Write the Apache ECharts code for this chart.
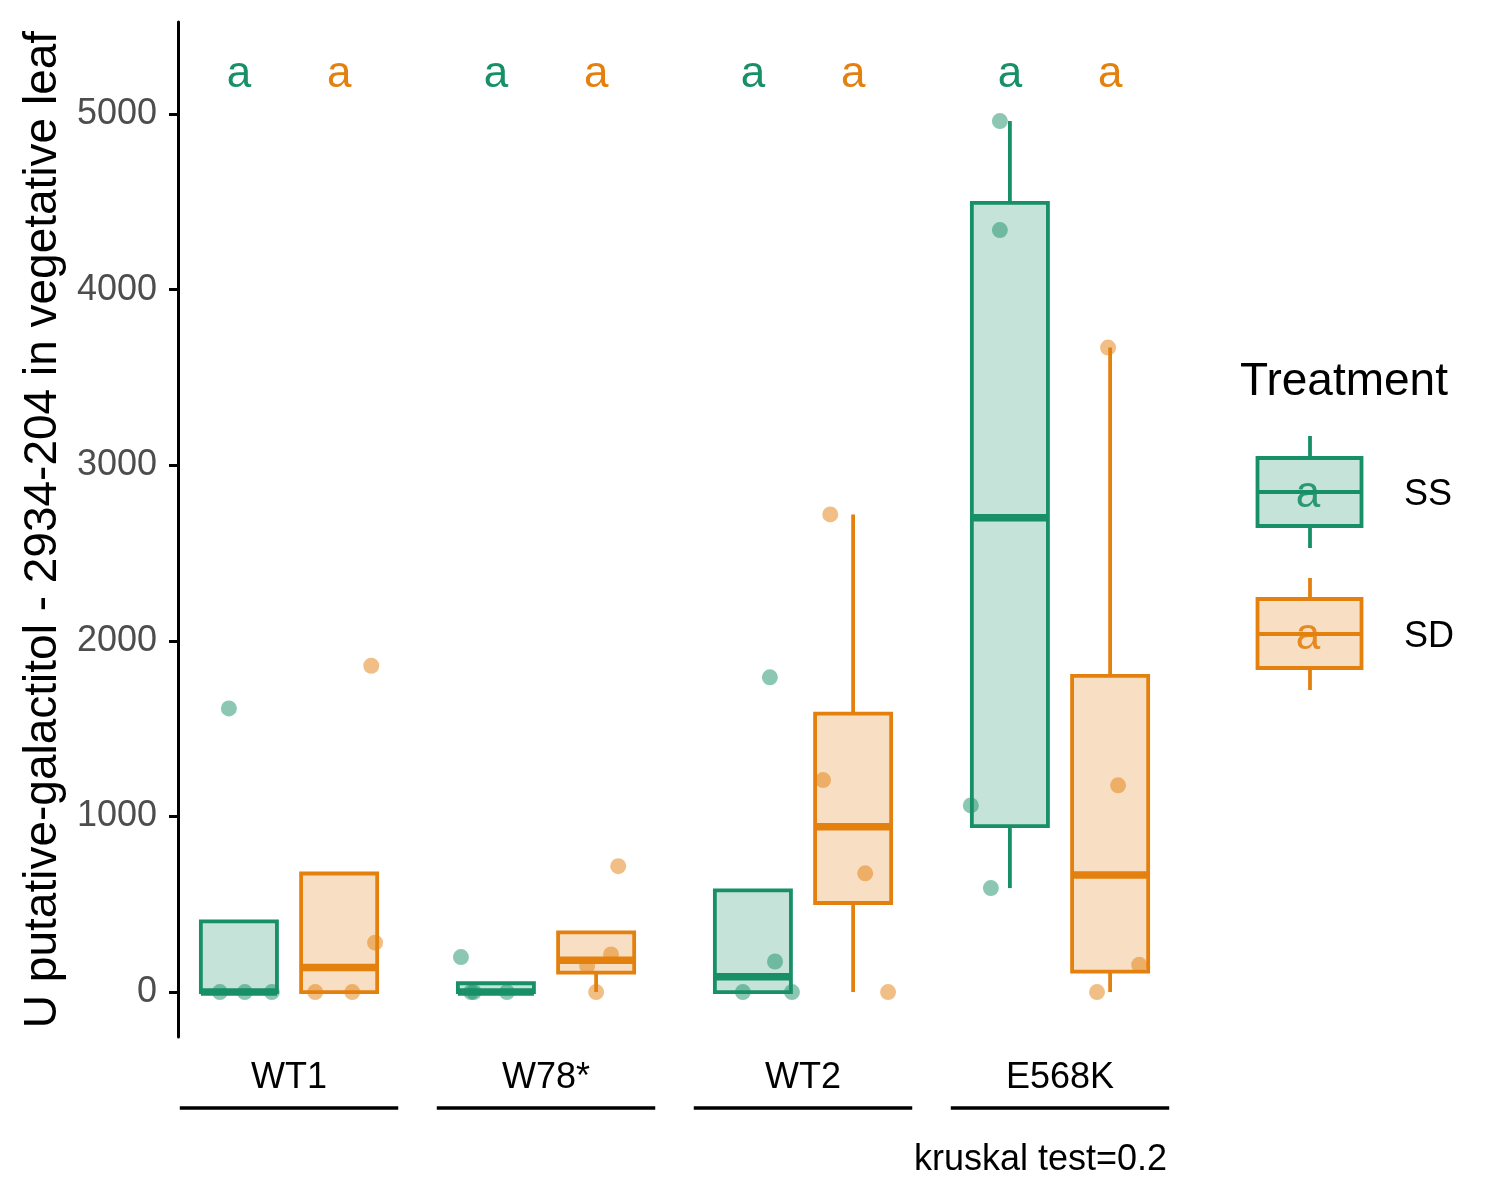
<!DOCTYPE html>
<html>
<head>
<meta charset="utf-8">
<script src="https://cdn.jsdelivr.net/npm/echarts@6/dist/echarts.min.js"></script>
<style>
html,body{margin:0;padding:0;background:#fff;}
#chart{width:1500px;height:1200px;}
</style>
</head>
<body>
<div id="chart"></div>
<script>
// ---------- data ----------
const groups = ['WT1', 'W78*', 'WT2', 'E568K'];
const treatments = ['SS', 'SD'];
// box stats per group: [lower whisker, Q1, median, Q3, upper whisker]
const ssBox = [
  [0, 0, 0, 402, 0],
  [0, 0, 0, 50, 0],
  [0, 0, 87, 579, 174],
  [592, 945, 2701, 4494, 4960]
];
const sdBox = [
  [0, 0, 140, 675, 281],
  [0, 111, 181, 340, 214],
  [0, 507, 941, 1586, 2720],
  [0, 116, 666, 1800, 3670]
];
// raw observations per group
const ssPoints = [
  [1615, 0, 0, 0],
  [199, 0, 0, 0],
  [1792, 174, 0, 0],
  [4960, 4339, 1063, 592]
];
const sdPoints = [
  [1858, 281, 0, 0],
  [717, 214, 148, 0],
  [2720, 1207, 676, 0],
  [3670, 1177, 155, 0]
];
// horizontal jitter of each observation (category units)
const ssJitter = [
  [-0.039, -0.074, 0.023, 0.128],
  [-0.136, -0.097, -0.086, 0.043],
  [0.066, 0.086, -0.039, 0.152],
  [-0.039, -0.039, -0.152, -0.074]
];
const sdJitter = [
  [0.125, 0.140, -0.093, 0.051],
  [0.086, 0.058, -0.035, 0.0],
  [-0.089, -0.117, 0.047, 0.136],
  [-0.008, 0.031, 0.113, -0.051]
];
const ssLetters = ['a', 'a', 'a', 'a'];
const sdLetters = ['a', 'a', 'a', 'a'];
const yTicks = [0, 1000, 2000, 3000, 4000, 5000];
const xTicks = [1, 2, 3, 4];
const yTitle = 'U putative-galactitol - 2934-204 in vegetative leaf';
const legendTitle = 'Treatment';
const testLabel = 'kruskal test=0.2';

// ---------- styling / layout ----------
const FONT = '"Liberation Sans", Arial, Helvetica, sans-serif';
const GREEN = '#178F67';
const ORANGE = '#E3800E';
const GREEN_FILL = 'rgba(23,143,103,0.25)';
const ORANGE_FILL = 'rgba(227,128,14,0.25)';
const Y_MIN = -256, Y_MAX = 5524;
const X_MIN = 0.568, X_MAX = 4.428;
const DODGE = 0.195;
const BOX_W = 0.296;
const LABEL_Y = 5225;
const LW = 3.8;

function boxData(stats, sign) {
  return stats.map((s, i) => [i + 1 + sign * DODGE].concat(s));
}
function pointData(points, jitter, sign) {
  const out = [];
  points.forEach((arr, i) => {
    arr.forEach((v, j) => out.push([i + 1 + sign * DODGE + jitter[i][j], v]));
  });
  return out;
}
function letterData(letters, sign) {
  return letters.map((t, i) => [i + 1 + sign * DODGE, LABEL_Y, t]);
}

function makeBoxRender(color, fill) {
  return function (params, api) {
    const x = api.value(0);
    const low = api.value(1), q1 = api.value(2), med = api.value(3), q3 = api.value(4), high = api.value(5);
    const children = [];
    if (high > q3) {
      const a = api.coord([x, q3]), b = api.coord([x, high]);
      children.push({type: 'line', shape: {x1: a[0], y1: a[1], x2: b[0], y2: b[1]}, style: {stroke: color, lineWidth: LW}});
    }
    if (low < q1) {
      const a = api.coord([x, q1]), b = api.coord([x, low]);
      children.push({type: 'line', shape: {x1: a[0], y1: a[1], x2: b[0], y2: b[1]}, style: {stroke: color, lineWidth: LW}});
    }
    const tl = api.coord([x - BOX_W / 2, q3]);
    const br = api.coord([x + BOX_W / 2, q1]);
    children.push({type: 'rect', shape: {x: tl[0], y: tl[1], width: br[0] - tl[0], height: br[1] - tl[1]},
      style: {fill: fill, stroke: color, lineWidth: LW}});
    const m1 = api.coord([x - BOX_W / 2, med]), m2 = api.coord([x + BOX_W / 2, med]);
    children.push({type: 'line', shape: {x1: m1[0], y1: m1[1], x2: m2[0], y2: m2[1]}, style: {stroke: color, lineWidth: 7.5}});
    return {type: 'group', children: children};
  };
}
function makeLetterRender(color) {
  return function (params, api) {
    const p = api.coord([api.value(0), api.value(1)]);
    return {type: 'text', x: p[0], y: p[1],
      style: {text: api.value(2), fill: color, font: '44px ' + FONT, align: 'center', verticalAlign: 'middle'}};
  };
}

const chart = echarts.init(document.getElementById('chart'), null, {renderer: 'canvas'});

const legendX = 1310;
function legendKey(yTop, yBox1, yBox2, yMed, yBot, color, fill, label) {
  return [
    {type: 'line', shape: {x1: legendX, y1: yTop, x2: legendX, y2: yBot}, style: {stroke: color, lineWidth: LW}},
    {type: 'rect', shape: {x: 1257.5, y: yBox1, width: 104, height: yBox2 - yBox1}, style: {fill: '#fff', stroke: null}},
    {type: 'rect', shape: {x: 1257.5, y: yBox1, width: 104, height: yBox2 - yBox1}, style: {fill: fill, stroke: color, lineWidth: LW}},
    {type: 'line', shape: {x1: 1257.5, y1: yMed, x2: 1361.5, y2: yMed}, style: {stroke: color, lineWidth: LW}},
    {type: 'text', x: 1308, y: yMed + 3, style: {text: 'a', fill: color, font: '44px ' + FONT, align: 'center', verticalAlign: 'middle', opacity: 0.9}},
    {type: 'text', x: 1404, y: yMed + 3, style: {text: label, fill: '#000', font: '36px ' + FONT, align: 'left', verticalAlign: 'middle'}}
  ];
}

const option = {
  backgroundColor: '#fff',
  animation: false,
  grid: {left: 178, top: 22, width: 992, height: 1015},
  xAxis: {
    type: 'value', min: X_MIN, max: X_MAX,
    axisLine: {show: false}, axisTick: {show: false}, splitLine: {show: false},
    axisLabel: {
      customValues: xTicks, margin: 23,
      formatter: v => groups[Math.round(v) - 1] || '',
      color: '#000', fontSize: 36, fontFamily: FONT
    }
  },
  yAxis: {
    type: 'value', min: Y_MIN, max: Y_MAX,
    name: yTitle, nameLocation: 'middle', nameGap: 103,
    nameTextStyle: {fontSize: 46, color: '#000', fontFamily: FONT},
    axisLine: {show: true, lineStyle: {color: '#000', width: 3}},
    axisTick: {show: true, customValues: yTicks, length: 9, lineStyle: {color: '#000', width: 3}},
    axisLabel: {customValues: yTicks, margin: 21, color: '#4D4D4D', fontSize: 36, fontFamily: FONT,
      formatter: v => String(Math.round(v))},
    splitLine: {show: false}
  },
  series: [
    {type: 'scatter', name: treatments[0], data: pointData(ssPoints, ssJitter, -1), symbolSize: 16,
      itemStyle: {color: GREEN, opacity: 0.5}, z: 1, silent: true},
    {type: 'scatter', name: treatments[1], data: pointData(sdPoints, sdJitter, 1), symbolSize: 16,
      itemStyle: {color: ORANGE, opacity: 0.5}, z: 1, silent: true},
    {type: 'custom', name: treatments[0] + ' box', data: boxData(ssBox, -1), renderItem: makeBoxRender(GREEN, GREEN_FILL),
      encode: {x: 0, y: [1, 2, 3, 4, 5]}, z: 3, clip: false, silent: true},
    {type: 'custom', name: treatments[1] + ' box', data: boxData(sdBox, 1), renderItem: makeBoxRender(ORANGE, ORANGE_FILL),
      encode: {x: 0, y: [1, 2, 3, 4, 5]}, z: 3, clip: false, silent: true},
    {type: 'custom', name: 'letters SS', data: letterData(ssLetters, -1), renderItem: makeLetterRender(GREEN),
      encode: {x: 0, y: 1}, z: 4, clip: false, silent: true},
    {type: 'custom', name: 'letters SD', data: letterData(sdLetters, 1), renderItem: makeLetterRender(ORANGE),
      encode: {x: 0, y: 1}, z: 4, clip: false, silent: true},
    {type: 'custom', name: 'group lines', data: xTicks.map(v => [v, Y_MIN]), clip: false, silent: true,
      encode: {x: 0, y: 1},
      renderItem: function (params, api) {
        const x = api.value(0);
        const a = api.coord([x - 0.425, Y_MIN]), b = api.coord([x + 0.425, Y_MIN]);
        const y = a[1] + 71;
        return {type: 'line', shape: {x1: a[0], y1: y, x2: b[0], y2: y}, style: {stroke: '#000', lineWidth: 3.5}};
      }}
  ],
  graphic: [
    {type: 'text', left: 914, top: 1142, style: {text: testLabel, fill: '#000', font: '36px ' + FONT}},
    {type: 'text', left: 1240, top: 359, style: {text: legendTitle, fill: '#000', font: '46px ' + FONT}}
  ].concat(
    legendKey(436, 458, 526, 492, 548, GREEN, GREEN_FILL, treatments[0]),
    legendKey(578, 599, 668, 634, 690, ORANGE, ORANGE_FILL, treatments[1])
  )
};
chart.setOption(option);
</script>
</body>
</html>
